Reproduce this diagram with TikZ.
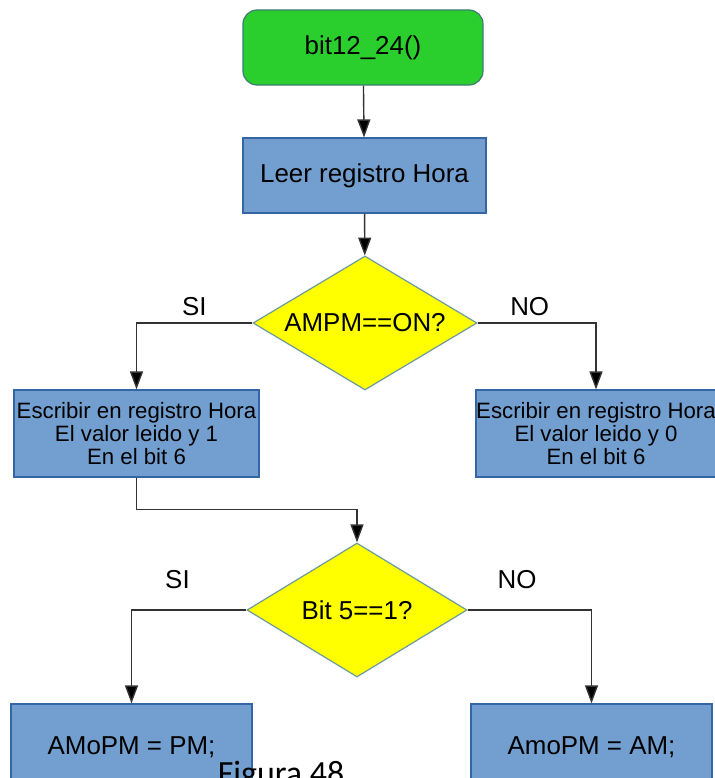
\documentclass[tikz,border=0pt]{standalone}
\usepackage{fontspec}
\setmainfont{Liberation Sans}
\newfontfamily\capfont{Carlito}
\usepackage{tikz}
\usetikzlibrary{arrows.meta,positioning,shapes.geometric}
\definecolor{startgreen}{HTML}{2ACF2E}
\definecolor{startedge} {HTML}{3E7C74}
\definecolor{boxblue}   {HTML}{729FCF}
\definecolor{boxedge}   {HTML}{3465A4}
\definecolor{askyellow} {HTML}{FFFF00}
\definecolor{askedge}   {HTML}{6E9A9E}
\definecolor{wire}      {HTML}{333333}

\tikzset{
  bigtext/.style={font=\fontsize{26}{30}\selectfont},
  smalltext/.style={font=\fontsize{22.3}{23.5}\selectfont},
  startbox/.style={draw=startedge, fill=startgreen, line width=1.2bp,
    rounded corners=14bp, minimum width=240bp, minimum height=75bp, bigtext},
  workbox/.style={draw=boxedge, fill=boxblue, line width=1.2bp,
    inner sep=0pt, align=center},
  askbox/.style={diamond, draw=askedge, fill=askyellow, line width=1.2bp,
    inner sep=0pt, aspect=1.67, bigtext},
  flow/.style={draw=wire, line width=1.4bp,
    -{Triangle[length=18bp,width=13bp,fill=black]}},
  answer/.style={bigtext, text=black}
}

\begin{document}
\begin{tikzpicture}[x=1bp,y=1bp]
  \useasboundingbox (0,0) rectangle (715,-778);

  % main column
  \node[startbox] (start) at (363,-47.5) {bit12\_24()};
  \node[workbox, bigtext, minimum width=243bp, minimum height=75bp]
    (leer) at (364.5,-175.5) {Leer registro Hora};
  \node[askbox, minimum width=224bp, minimum height=134bp]
    (ampm) at (365,-323) {AMPM==ON?};

  % write bit 6
  \node[workbox, smalltext, minimum width=245bp, minimum height=87bp]
    (bitone) at (136.5,-433.5)
    {Escribir en registro Hora\\El valor leido y 1\\En el bit 6};
  \node[workbox, smalltext, minimum width=240bp, minimum height=87bp]
    (bitzero) at (596,-433.5)
    {Escribir en registro Hora\\El valor leido y 0\\En el bit 6};

  % bit 5 test
  \node[askbox, minimum width=220bp, minimum height=134bp]
    (bitfive) at (357,-610) {Bit 5==1?};
  \node[workbox, bigtext, minimum width=241bp, minimum height=87bp]
    (pm) at (131.5,-747.5) {AMoPM = PM;};
  \node[workbox, bigtext, minimum width=241bp, minimum height=87bp]
    (am) at (591.5,-747.5) {AmoPM = AM;};

  \draw[flow] (start) -- (leer);
  \draw[flow] (leer) -- (ampm);
  \draw[flow] (ampm.west) -| node[answer, pos=0.25, above=3bp] {SI} (bitone.north);
  \draw[flow] (ampm.east) -| node[answer, pos=0.22, above=3bp] {NO} (bitzero.north);
  \draw[flow] (bitone.south) -- ++(0,-32) -| (bitfive.north);
  \draw[flow] (bitfive.west) -| node[answer, pos=0.3, above=17bp] {SI} (pm.north);
  \draw[flow] (bitfive.east) -| node[answer, pos=0.2, above=17bp] {NO} (am.north);

  \node[font=\capfont\fontsize{34}{40}\selectfont, anchor=base]
    (caption) at (281,-784) {Figura 48};
\end{tikzpicture}
\end{document}
